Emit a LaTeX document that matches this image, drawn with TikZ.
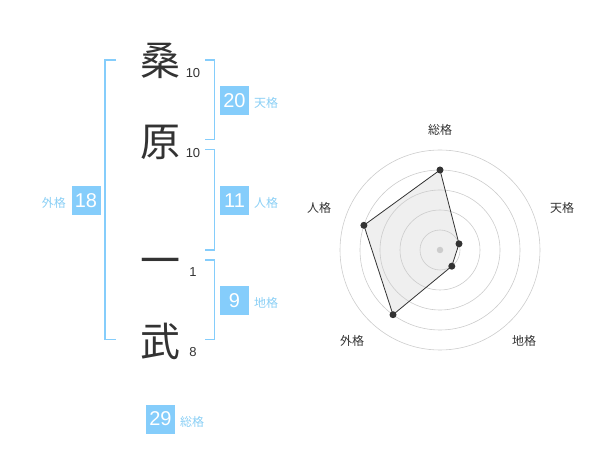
\documentclass[tikz,border=0pt]{standalone}
\usepackage{fontspec}
\setmainfont{Liberation Sans}
\newfontfamily\jp{Noto Sans CJK JP}
\definecolor{skyb}{HTML}{85CDFB}
\definecolor{skyt}{HTML}{8ACFF5}
\definecolor{ink}{HTML}{333333}
\definecolor{ringc}{HTML}{CCCCCC}
\definecolor{polyf}{HTML}{EFEFEF}
\tikzset{
  brk/.style={draw=skyb,line width=1.6pt},
  kanji/.style={font=\jp\fontsize{40}{40}\selectfont,text=ink,inner sep=0pt},
  strk/.style={font=\fontsize{13}{13}\selectfont,text=ink,inner sep=0pt},
  numbox/.style={fill=skyb,text=white,minimum width=29pt,minimum height=29pt,inner sep=0pt,font=\fontsize{20}{20}\selectfont},
  kaku/.style={text=skyt,font=\jp\fontsize{12}{12}\selectfont,inner sep=0pt},
  ring/.style={draw=ringc,line width=0.6pt},
  axlab/.style={text=ink,font=\jp\fontsize{12}{12}\selectfont,inner sep=0pt},
  dot/.style={circle,fill=ink,inner sep=0pt,minimum size=7pt},
  polyfill/.style={fill=polyf},
  poly/.style={draw=ink,line width=0.8pt},
}
\begin{document}
\begin{tikzpicture}[x=1pt,y=-1pt]
\useasboundingbox (0,0) rectangle (600,470);
% characters
\node[kanji] (c1) at (160,61) {桑};
\node[kanji] (c2) at (160,142) {原};
\node[kanji] (c3) at (160,267) {一};
\node[kanji] (c4) at (160,341) {武};
\node[strk] (s1) at (193,73) {10};
\node[strk] (s2) at (193,153) {10};
\node[strk] (s3) at (193,272) {1};
\node[strk] (s4) at (193,352) {8};
% brackets
\draw[brk] (116,60) -- (105,60) -- (105,339.5) -- (116,339.5);
\draw[brk] (205,60) -- (214.5,60) -- (214.5,139.5) -- (205,139.5);
\draw[brk] (205,149.5) -- (214.5,149.5) -- (214.5,250) -- (205,250);
\draw[brk] (205,260) -- (214.5,260) -- (214.5,339.5) -- (205,339.5);
% boxes
\node[numbox] (ten) at (234.5,100.5) {20};
\node[kaku,anchor=west] (tenl) at (254,103) {天格};
\node[numbox] (jin) at (234.5,200.5) {11};
\node[kaku,anchor=west] (jinl) at (254,203) {人格};
\node[numbox] (chi) at (234.5,300.5) {9};
\node[kaku,anchor=west] (chil) at (254,303) {地格};
\node[numbox] (gai) at (86,200.5) {18};
\node[kaku,anchor=east] (gail) at (66,203) {外格};
\node[numbox] (sou) at (160.5,419) {29};
\node[kaku,anchor=west] (soul) at (180,422) {総格};
% radar
\coordinate (o) at (440,250);
\coordinate (p1) at (440,170);
\coordinate (p2) at (459.0,243.8);
\coordinate (p3) at (451.8,266.2);
\coordinate (p4) at (393.0,314.7);
\coordinate (p5) at (363.9,225.3);
\fill[polyfill] (p1) -- (p2) -- (p3) -- (p4) -- (p5) -- cycle;
\foreach \r in {20,40,60,80,100} \draw[ring] (o) circle (\r);
\draw[poly] (p1) -- (p2) -- (p3) -- (p4) -- (p5) -- cycle;
\foreach \p in {p1,p2,p3,p4,p5} \node[dot] at (\p) {};
\node[circle,fill=ringc,inner sep=0pt,minimum size=6.5pt] (ctr) at (o) {};
\node[axlab] (l1) at (440,130) {総格};
\node[axlab] (l2) at (562,208) {天格};
\node[axlab] (l3) at (524,341) {地格};
\node[axlab] (l4) at (352,341) {外格};
\node[axlab] (l5) at (319,208) {人格};
\end{tikzpicture}
\end{document}
